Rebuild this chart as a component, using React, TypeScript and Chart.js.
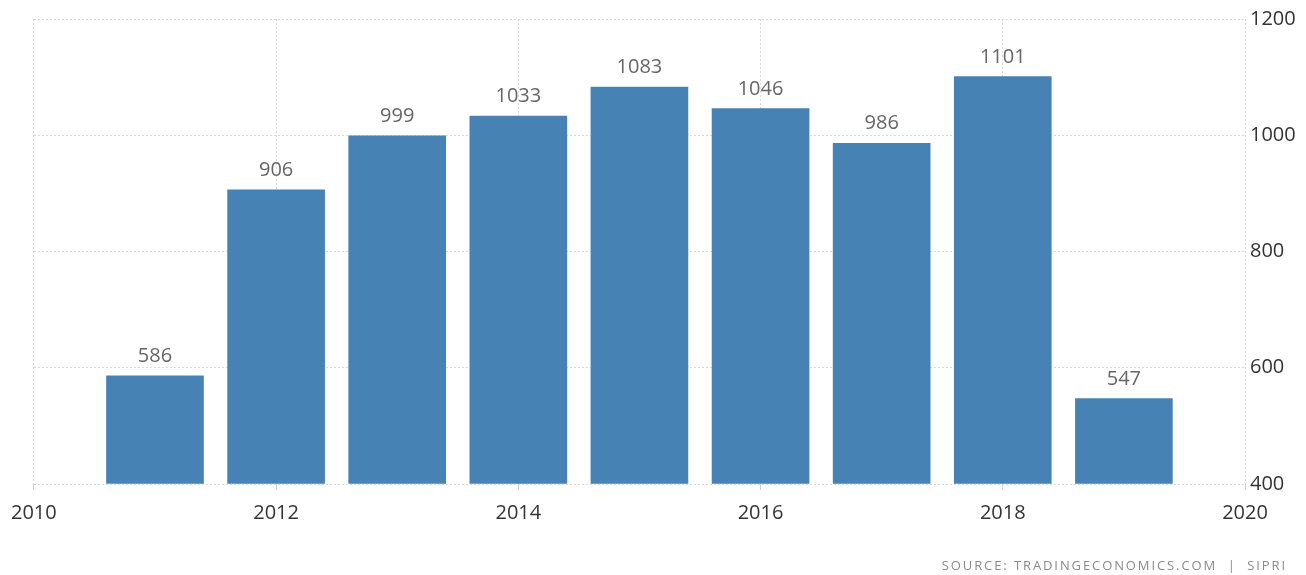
import React, { useEffect, useRef } from "react";
import { Chart, registerables } from "chart.js";

Chart.register(...registerables);

const years = [2011, 2012, 2013, 2014, 2015, 2016, 2017, 2018, 2019];
const values = [586, 906, 999, 1033, 1083, 1046, 986, 1101, 547];
const xTicks = [2010, 2012, 2014, 2016, 2018, 2020];
const yTicks = [400, 600, 800, 1000, 1200];
const sourceText = "SOURCE: TRADINGECONOMICS.COM  |  SIPRI";

const FONT = "'Open Sans', 'DejaVu Sans', sans-serif";

const labelPlugin = {
  id: "barLabels",
  afterDatasetsDraw(chart: any) {
    const ctx = chart.ctx;
    const meta = chart.getDatasetMeta(0);
    ctx.save();
    ctx.font = `20px ${FONT}`;
    ctx.fillStyle = "#666666";
    ctx.textAlign = "center";
    ctx.textBaseline = "alphabetic";
    meta.data.forEach((bar: any, i: number) => {
      ctx.fillText(String(values[i]), bar.x, bar.y - 14);
    });
    ctx.restore();
  },
};

export default function App() {
  const ref = useRef<HTMLCanvasElement | null>(null);
  useEffect(() => {
    document.body.style.margin = "0";
    const chart = new Chart(ref.current as HTMLCanvasElement, {
      type: "bar",
      data: {
        datasets: [
          {
            data: years.map((y, i) => ({ x: y, y: values[i] })),
            backgroundColor: "#4682b4",
            barThickness: 97,
            borderWidth: 0,
            base: 400,
          } as any,
        ],
      },
      options: {
        animation: false,
        responsive: false,
        maintainAspectRatio: false,
        layout: { padding: { left: 33, top: 19, right: 0, bottom: 0 } },
        plugins: { legend: { display: false }, tooltip: { enabled: false } },
        scales: {
          x: {
            type: "linear",
            min: 2010,
            max: 2020,
            offset: false,
            afterBuildTicks: (s: any) => {
              s.ticks = xTicks.map((v) => ({ value: v }));
            },
            afterFit: (s: any) => {
              s.height = 91;
            },
            ticks: {
              color: "#333333",
              font: { family: FONT, size: 20 },
              padding: 11,
              maxRotation: 0,
              autoSkip: false,
              callback: (v: any) => String(v),
            },
            grid: {
              color: "#d8d8d8",
              tickColor: "#d0d0d0",
              tickLength: 6,
              offset: false,
            },
            border: { display: false, dash: [2, 2] },
          },
          y: {
            position: "right",
            min: 400,
            max: 1200,
            afterBuildTicks: (s: any) => {
              s.ticks = yTicks.map((v) => ({ value: v }));
            },
            afterFit: (s: any) => {
              s.width = 61;
            },
            ticks: {
              color: "#333333",
              font: { family: FONT, size: 20 },
              padding: 5,
              callback: (v: any) => String(v),
            },
            grid: { color: "#d8d8d8", drawTicks: false },
            border: { display: false, dash: [2, 2] },
          },
        },
      } as any,
      plugins: [labelPlugin],
    });
    return () => chart.destroy();
  }, []);
  return (
    <div style={{ position: "relative", width: 1306, height: 575 }}>
      <canvas ref={ref} width={1306} height={575} style={{ display: "block" }} />
      <div
        style={{
          position: "absolute",
          right: 19,
          top: 556,
          fontFamily: FONT,
          fontSize: 13,
          letterSpacing: "1.9px",
          color: "#8a8a8a",
          whiteSpace: "pre",
        }}
      >
        {sourceText}
      </div>
    </div>
  );
}
